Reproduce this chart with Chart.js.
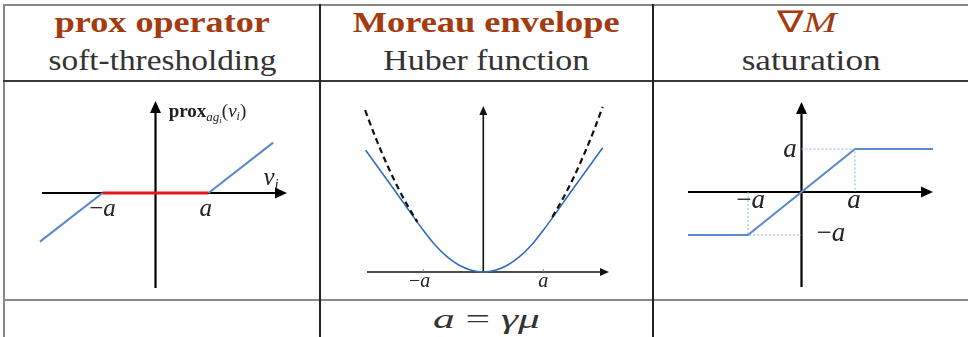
<!DOCTYPE html>
<html>
<head>
<meta charset="utf-8">
<script src="https://cdn.jsdelivr.net/npm/chart.js@4.4.1/dist/chart.umd.min.js"></script>
<style>
  html, body { margin: 0; padding: 0; background: #fff; }
  body { width: 968px; height: 337px; position: relative; overflow: hidden; font-family: 'Liberation Serif', serif; }
  .rule { position: absolute; }
  .cell { position: absolute; text-align: center; white-space: nowrap; line-height: 30px; font-size: 30px; font-family: 'Liberation Serif', serif; }
  .cell span { display: inline-block; transform-origin: 50% 50%; }
  .title { color: #a33a10; font-weight: bold; }
  .sub { color: #333; }
  .formula { color: #333; font-size: 28px; line-height: 28px; }
  canvas { position: absolute; }
</style>
</head>
<body>

<!-- table rules -->
<div class="rule" style="left:3px;top:4px;width:965px;height:2px;background:#888"></div>
<div class="rule" style="left:3px;top:4px;width:2px;height:333px;background:#888"></div>
<div class="rule" style="left:3px;top:80px;width:965px;height:2px;background:#3a3a3a"></div>
<div class="rule" style="left:3px;top:299px;width:965px;height:2px;background:#8a8a8a"></div>
<div class="rule" style="left:319px;top:4px;width:2px;height:333px;background:#222"></div>
<div class="rule" style="left:652px;top:4px;width:2px;height:333px;background:#222"></div>

<!-- header row -->
<div class="cell title" style="left:5px;width:314px;top:7px"><span data-w="215">prox operator</span></div>
<div class="cell sub" style="left:5px;width:314px;top:45px"><span data-w="228">soft-thresholding</span></div>
<div class="cell title" style="left:321px;width:331px;top:7px"><span data-w="267">Moreau envelope</span></div>
<div class="cell sub" style="left:321px;width:331px;top:45px"><span data-w="206">Huber function</span></div>
<div class="cell title" style="left:654px;width:304px;top:7px;font-weight:normal"><span data-w="60">∇<i>M</i></span></div>
<div class="cell sub" style="left:654px;width:314px;top:45px"><span data-w="139">saturation</span></div>

<!-- plots -->
<canvas id="proxChart" width="314" height="217" style="left:5px;top:82px"></canvas>
<canvas id="huberChart" width="331" height="217" style="left:321px;top:82px"></canvas>
<canvas id="satChart" width="314" height="217" style="left:654px;top:82px"></canvas>

<!-- footer row -->
<div class="cell formula" style="left:321px;width:331px;top:305px"><span data-w="107"><i>a</i>&nbsp;=&nbsp;<i>γμ</i></span></div>

<script>
// ---- soft-thresholding (a = 1) ----
const proxLeftX = [-2.18, -1];
const proxLeftY = [-1.18, 0];
const proxDeadX = [-1, 1];
const proxDeadY = [0, 0];
const proxRightX = [1, 2.22];
const proxRightY = [0, 1.22];
const proxTickLabels = ['−a', 'a'];

// ---- Huber function and the parabola it follows near zero ----
const huberX = [-1.96, -1.5, -1.0, -0.8, -0.6, -0.4, -0.2, 0, 0.2, 0.4, 0.6, 0.8, 1.0, 1.5, 1.99];
const huberY = [1.46, 1.0, 0.5, 0.32, 0.18, 0.08, 0.02, 0, 0.02, 0.08, 0.18, 0.32, 0.5, 1.0, 1.49];
const quadLeftX = [-1.97, -1.8, -1.6, -1.4, -1.25, -1.1];
const quadLeftY = [1.94, 1.62, 1.28, 0.98, 0.78, 0.6];
const quadRightX = [1.15, 1.3, 1.5, 1.7, 1.85, 1.99];
const quadRightY = [0.66, 0.845, 1.125, 1.445, 1.71, 1.98];
const huberTicks = [-1, 1];
const huberTickLabels = ['−a', 'a'];

// ---- saturation ----
const satX = [-2.12, -1, 1, 2.46];
const satY = [-1, -1, 1, 1];
const satGuideUpX = [0, 1, 1];
const satGuideUpY = [1, 1, 0];
const satGuideDownX = [-1, -1, 0];
const satGuideDownY = [0, -1, -1];
const satTickLabels = ['a', '−a', 'a', '−a'];

const SERIF = "'Liberation Serif', serif";

function pts(xs, ys) {
    return xs.map((x, i) => ({ x: x, y: ys[i] }));
}

function lineSet(xs, ys, color, width, extra) {
    return Object.assign({
        data: pts(xs, ys),
        showLine: true,
        pointRadius: 0,
        borderColor: color,
        borderWidth: width,
        fill: false
    }, extra || {});
}

function drawArrow(ctx, x0, y0, x1, y1, head, color, width) {
    const ang = Math.atan2(y1 - y0, x1 - x0);
    const bx = x1 - Math.cos(ang) * head.len;
    const by = y1 - Math.sin(ang) * head.len;
    ctx.strokeStyle = color;
    ctx.lineWidth = width;
    ctx.beginPath();
    ctx.moveTo(x0, y0);
    ctx.lineTo(bx, by);
    ctx.stroke();
    ctx.fillStyle = color;
    ctx.beginPath();
    ctx.moveTo(x1, y1);
    ctx.lineTo(bx + Math.sin(ang) * head.half, by - Math.cos(ang) * head.half);
    ctx.lineTo(bx - Math.sin(ang) * head.half, by + Math.cos(ang) * head.half);
    ctx.closePath();
    ctx.fill();
}

// draws a run of text pieces, each with its own font and baseline shift
function drawRich(ctx, x, y, parts, color) {
    ctx.fillStyle = color;
    ctx.textAlign = 'left';
    ctx.textBaseline = 'alphabetic';
    let total = 0;
    parts.forEach(p => { ctx.font = p.font; total += ctx.measureText(p.t).width; });
    let cx = x - total / 2;
    parts.forEach(p => {
        ctx.font = p.font;
        ctx.fillText(p.t, cx, y + (p.dy || 0));
        cx += ctx.measureText(p.t).width;
    });
}

// arrow axes through the origin, tick marks and math labels
const mathAxes = {
    id: 'mathAxes',
    beforeDatasetsDraw(chart, args, opts) {
        const ctx = chart.ctx;
        const sx = chart.scales.x, sy = chart.scales.y;
        const x0 = sx.getPixelForValue(0), y0 = sy.getPixelForValue(0);
        ctx.save();
        drawArrow(ctx, sx.getPixelForValue(opts.xSpan[0]), y0, sx.getPixelForValue(opts.xSpan[1]), y0, opts.head, opts.color, opts.width);
        drawArrow(ctx, x0, sy.getPixelForValue(opts.ySpan[0]), x0, sy.getPixelForValue(opts.ySpan[1]), opts.head, opts.color, opts.width);
        (opts.ticks || []).forEach(t => {
            const px = sx.getPixelForValue(t);
            ctx.strokeStyle = '#888';
            ctx.lineWidth = 1;
            ctx.beginPath();
            ctx.moveTo(px, y0);
            ctx.lineTo(px, y0 - 3);
            ctx.stroke();
        });
        ctx.restore();
    },
    afterDatasetsDraw(chart, args, opts) {
        const ctx = chart.ctx;
        const sx = chart.scales.x, sy = chart.scales.y;
        ctx.save();
        (opts.labels || []).forEach(l => {
            drawRich(ctx, sx.getPixelForValue(l.x), sy.getPixelForValue(l.y), l.parts, '#222');
        });
        ctx.restore();
    }
};

function makeChart(id, datasets, range, axes) {
    return new Chart(document.getElementById(id), {
        type: 'scatter',
        data: { datasets: datasets },
        options: {
            responsive: false,
            animation: false,
            layout: { padding: 0 },
            elements: { line: { tension: 0 } },
            scales: {
                x: { type: 'linear', display: false, min: range[0], max: range[1] },
                y: { type: 'linear', display: false, min: range[2], max: range[3] }
            },
            plugins: {
                legend: { display: false },
                tooltip: { enabled: false },
                mathAxes: axes
            }
        },
        plugins: [mathAxes]
    });
}

function mathLabel(text, size) {
    // leading minus upright, variable italic
    if (text.charAt(0) === '−') {
        return [{ t: '−', font: size + 'px ' + SERIF }, { t: text.slice(1), font: 'italic ' + size + 'px ' + SERIF }];
    }
    return [{ t: text, font: 'italic ' + size + 'px ' + SERIF }];
}

// soft-thresholding panel
makeChart('proxChart', [
    lineSet(proxLeftX, proxLeftY, '#5b8bc9', 2.2),
    lineSet(proxRightX, proxRightY, '#5b8bc9', 2.2),
    lineSet(proxDeadX, proxDeadY, '#e8191b', 3)
], [-2.840, 3.085, -2.567, 2.688], {
    xSpan: [-2.142, 2.481], ySpan: [-2.30, 2.228],
    head: { len: 12, half: 5.5 }, color: '#000', width: 2.2,
    labels: [
        { x: -1.0, y: -0.56, parts: mathLabel(proxTickLabels[0], 25) },
        { x: 0.95, y: -0.56, parts: mathLabel(proxTickLabels[1], 25) },
        { x: 2.18, y: 0.19, parts: [{ t: 'v', font: 'italic 25px ' + SERIF }, { t: 'i', font: 'italic 15px ' + SERIF, dy: 4 }] },
        { x: 0.98, y: 1.84, parts: [
            { t: 'prox', font: 'bold 19px ' + SERIF },
            { t: 'ag', font: 'italic 13px ' + SERIF, dy: 4 },
            { t: 'i', font: 'italic 9px ' + SERIF, dy: 6 },
            { t: '(', font: '19px ' + SERIF },
            { t: 'v', font: 'italic 19px ' + SERIF },
            { t: 'i', font: 'italic 12px ' + SERIF, dy: 3 },
            { t: ')', font: '19px ' + SERIF }
        ] }
    ]
});

// Huber panel
makeChart('huberChart', [
    lineSet(quadLeftX, quadLeftY, '#111', 2.2, { borderDash: [6, 4], cubicInterpolationMode: 'monotone' }),
    lineSet(quadRightX, quadRightY, '#111', 2.2, { borderDash: [6, 4], cubicInterpolationMode: 'monotone' }),
    lineSet(huberX, huberY, '#2f6fba', 1.6, { cubicInterpolationMode: 'monotone' })
], [-2.705, 2.812, -0.324, 2.278], {
    xSpan: [-1.938, 2.095], ySpan: [0, 1.99],
    head: { len: 9, half: 4 }, color: '#111', width: 1.6,
    ticks: huberTicks,
    labels: [
        { x: -1.06, y: -0.18, parts: mathLabel(huberTickLabels[0], 20) },
        { x: 1.0, y: -0.18, parts: mathLabel(huberTickLabels[1], 20) }
    ]
});

// saturation panel
makeChart('satChart', [
    lineSet(satGuideUpX, satGuideUpY, '#8fb0dc', 1, { borderDash: [2, 2] }),
    lineSet(satGuideDownX, satGuideDownY, '#8fb0dc', 1, { borderDash: [2, 2] }),
    lineSet(satX, satY, '#5b8bc9', 2.2)
], [-2.757, 3.112, -2.488, 2.558], {
    xSpan: [-2.121, 2.458], ySpan: [-2.209, 2.093],
    head: { len: 12, half: 5.5 }, color: '#000', width: 2.2,
    labels: [
        { x: -0.215, y: 0.81, parts: mathLabel(satTickLabels[0], 27) },
        { x: -0.95, y: -0.37, parts: mathLabel(satTickLabels[1], 27) },
        { x: 0.98, y: -0.37, parts: mathLabel(satTickLabels[2], 27) },
        { x: 0.55, y: -1.14, parts: mathLabel(satTickLabels[3], 27) }
    ]
});

// stretch header text to the column widths
document.querySelectorAll('.cell span[data-w]').forEach(el => {
    const w = el.getBoundingClientRect().width;
    const target = parseFloat(el.dataset.w);
    if (w > 0) el.style.transform = 'scaleX(' + (target / w).toFixed(3) + ')';
});
</script>
</body>
</html>
